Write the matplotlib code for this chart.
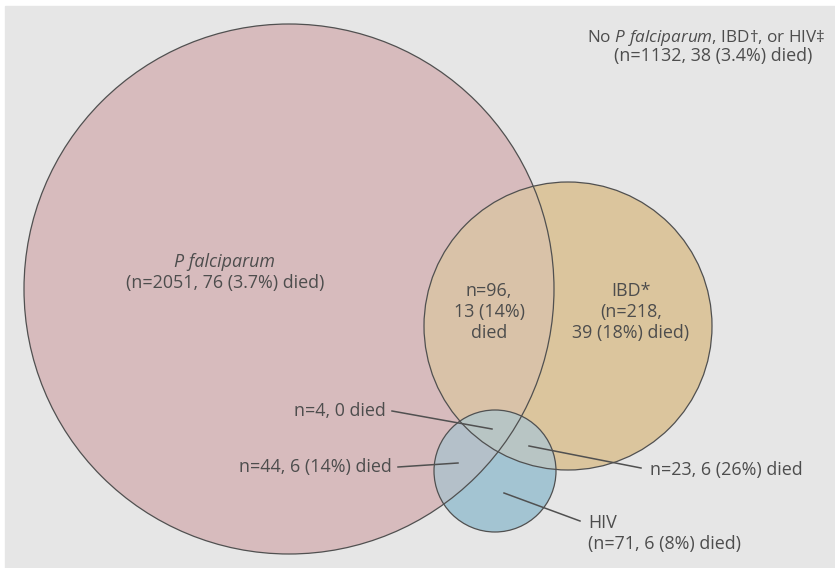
import matplotlib
matplotlib.use("Agg")
import matplotlib.pyplot as plt
from matplotlib.patches import Circle, Rectangle

# Counts per Venn region
regions = ["pf_only", "pf_ibd", "ibd_only", "pf_hiv", "pf_ibd_hiv", "ibd_hiv", "hiv_only", "none"]
n_total = [2051, 96, 218, 44, 4, 23, 71, 1132]
n_died = [76, 13, 39, 6, 0, 6, 6, 38]
pct_died = ["3.7", "14", "18", "14", "", "26", "8", "3.4"]

plt.rcParams["font.family"] = ["Open Sans", "DejaVu Sans"]
plt.rcParams["mathtext.fontset"] = "custom"
plt.rcParams["mathtext.rm"] = "Open Sans"
plt.rcParams["mathtext.it"] = "Open Sans:italic"

txt = "#4d4d4d"
edge = "#505050"
fs = 12.9
step = 21

fig = plt.figure(figsize=(8.35, 5.68), dpi=100)
ax = fig.add_axes([0, 0, 1, 1])
ax.set_xlim(0, 835)
ax.set_ylim(568, 0)
ax.axis("off")

ax.add_patch(Rectangle((5, 6), 830, 562, color="#e6e6e6", zorder=0))

# circle layout: (x, y, r)
pf = (289, 289, 265)
ibd = (568, 326, 144)
hiv = (495, 471, 61)


def circ(c, **kw):
    return Circle((c[0], c[1]), c[2], transform=ax.transData, **kw)


ax.add_patch(circ(pf, facecolor="#d7bbbd", edgecolor="none", zorder=1))
ax.add_patch(circ(ibd, facecolor="#dbc59d", edgecolor="none", zorder=2))
p = circ(ibd, facecolor="#d9c2a8", edgecolor="none", zorder=3)
ax.add_patch(p)
p.set_clip_path(circ(pf))
ax.add_patch(circ(hiv, facecolor="#a3c4d2", edgecolor="none", zorder=4))
p = circ(hiv, facecolor="#b4c0c9", edgecolor="none", zorder=5)
ax.add_patch(p)
p.set_clip_path(circ(pf))
p = circ(hiv, facecolor="#b8c5c4", edgecolor="none", zorder=6)
ax.add_patch(p)
p.set_clip_path(circ(ibd))
for c in (pf, ibd, hiv):
    ax.add_patch(circ(c, facecolor="none", edgecolor=edge, lw=0.9, zorder=7))

d = dict(zip(regions, zip(n_total, n_died, pct_died)))


def label(x, y, lines, ha="center", **kw):
    for i, s in enumerate(lines):
        ax.text(x, y + i * step, s, ha=ha, va="baseline", fontsize=kw.get("size", fs),
                color=txt, style=kw.get("styles", ["normal"] * len(lines))[i], zorder=9)


n, k, q = d["none"]
ax.text(706, 41.5, r"No $\mathit{P\ falciparum}$, IBD†, or HIV‡", ha="center", va="baseline",
        fontsize=12.3, color=txt)
ax.text(713, 61.5, f"(n={n}, {k} ({q}%) died)", ha="center", va="baseline", fontsize=fs, color=txt)

n, k, q = d["pf_only"]
label(225, 267, ["P falciparum", f"(n={n}, {k} ({q}%) died)"], styles=["italic", "normal"])

n, k, q = d["pf_ibd"]
label(489, 296, [f"n={n},", f"{k} ({q}%)", "died"])

n, k, q = d["ibd_only"]
label(631, 296, ["IBD*", f"(n={n},", f"{k} ({q}%) died)"])

n, k, q = d["pf_ibd_hiv"]
label(386, 416, [f"n={n}, {k} died"], ha="right")
ax.plot([392, 492], [411, 429], color=edge, lw=1.1, zorder=8)

n, k, q = d["pf_hiv"]
label(392, 472, [f"n={n}, {k} ({q}%) died"], ha="right")
ax.plot([398, 458], [467, 463], color=edge, lw=1.1, zorder=8)

n, k, q = d["ibd_hiv"]
label(650, 475.5, [f"n={n}, {k} ({q}%) died"], ha="left")
ax.plot([529, 641], [446, 468], color=edge, lw=1.1, zorder=8)

n, k, q = d["hiv_only"]
label(588, 527.5, ["HIV", f"(n={n}, {k} ({q}%) died)"], ha="left")
ax.plot([504, 580], [493, 521], color=edge, lw=1.1, zorder=8)

fig.savefig("out.png", dpi=100)
